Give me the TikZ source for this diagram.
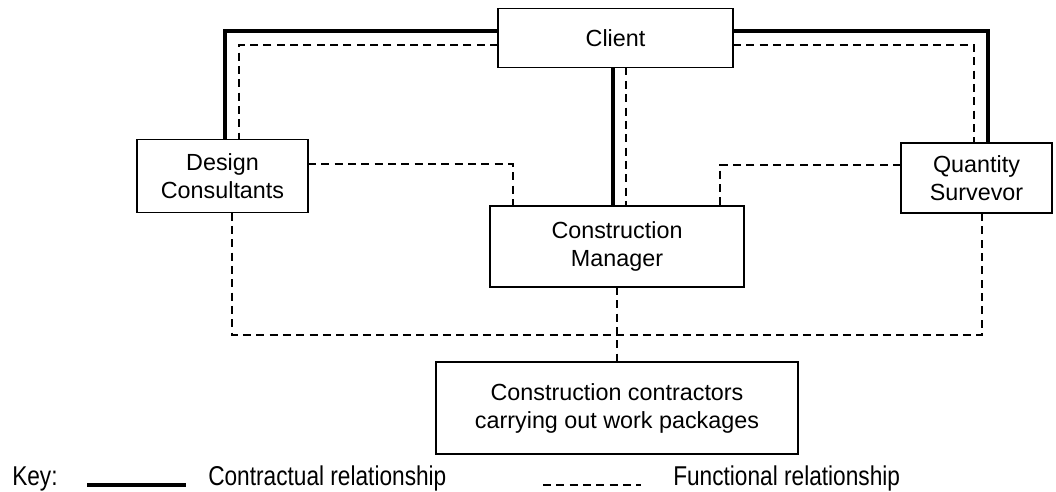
\documentclass[tikz,border=0pt]{standalone}
\usepackage{fontspec}
\setmainfont{Liberation Sans}
\begin{document}
\begin{tikzpicture}[x=0.75pt,y=-0.75pt,
  box/.style={draw,line width=1.4pt,inner sep=0pt,outer sep=0pt,align=center,
    font=\fontsize{17.5}{21}\selectfont},
  contract/.style={line width=3pt},
  func/.style={line width=1.1pt,dash pattern=on 6pt off 4pt},
  keytext/.style={anchor=base west,inner sep=0pt,font=\fontsize{17}{20}\selectfont}]
\useasboundingbox (0,0) rectangle (1056,492);

% organisations
\node[box,minimum width=176.25pt,minimum height=44.25pt] (client) at (615.5,38) {Client};
\node[box,minimum width=128.25pt,minimum height=54.75pt] (design) at (222.5,176) {Design\\Consultants};
\node[box,minimum width=113.25pt,minimum height=52.5pt] (qs) at (976.5,178) {Quantity\\Survevor};
\node[box,minimum width=190.5pt,minimum height=60.75pt] (cm) at (617,246.5) {Construction\\Manager};
\node[box,minimum width=271.5pt,minimum height=69pt] (works) at (617,408) {Construction contractors\\carrying out work packages};

% contractual links
\draw[contract] (client.west |- 0,31) -| (225,0 |- design.north);
\draw[contract] (client.east |- 0,31) -| (988,0 |- qs.north);
\draw[contract] (613,0 |- client.south) -- (613,0 |- cm.north);

% functional links
\draw[func] (client.west |- 0,45) -| (239,0 |- design.north);
\draw[func] (client.east |- 0,45) -| (974,0 |- qs.north);
\draw[func] (626,0 |- client.south) -- (626,0 |- cm.north);
\draw[func] (design.east |- 0,164) -| (513,0 |- cm.north);
\draw[func] (qs.west |- 0,165) -| (720,0 |- cm.north);
\draw[func] (232,0 |- design.south) |- (982,335) -- (982,0 |- qs.south);
\draw[func] (cm.south) -- (works.north);

% key
\node[keytext] (keylbl) at (12,485) {\scalebox{1}[1.2]{Key:}};
\coordinate (ca) at (87,485);
\coordinate (cb) at (186,485);
\draw[contract] (ca) -- (cb);
\node[keytext] (ctext) at (208,485) {\scalebox{1}[1.2]{Contractual relationship}};
\coordinate (fa) at (543,485);
\coordinate (fb) at (641,485);
\draw[line width=1.1pt,dash pattern=on 6pt off 4pt] (fa) -- (fb);
\node[keytext] (ftext) at (673,485) {\scalebox{1}[1.2]{Functional relationship}};
\end{tikzpicture}
\end{document}
